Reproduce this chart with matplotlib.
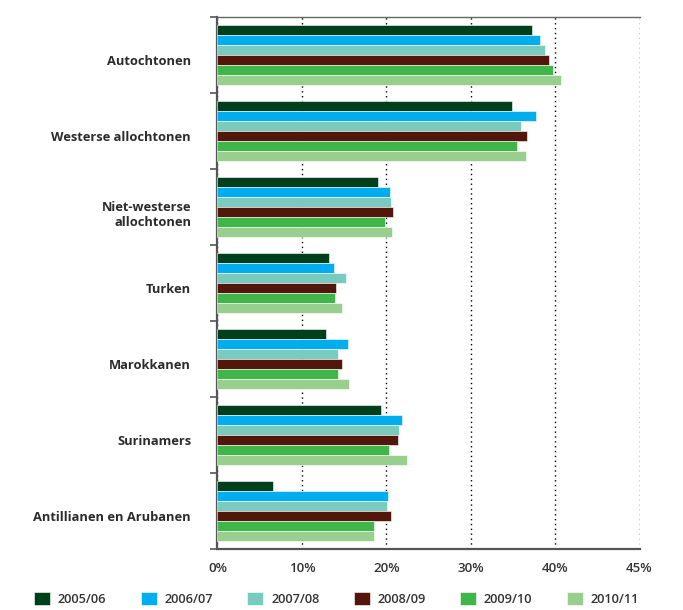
import matplotlib.pyplot as plt
import numpy as np

plt.rcParams['font.family'] = ['Open Sans', 'DejaVu Sans']

groups = ["Autochtonen", "Westerse allochtonen", "Niet-westerse\nallochtonen",
          "Turken", "Marokkanen", "Surinamers", "Antillianen en Arubanen"]
years = ["2005/06", "2006/07", "2007/08", "2008/09", "2009/10", "2010/11"]

v_2005 = [37.3, 34.9, 19.0, 13.2, 12.8, 19.4, 6.6]
v_2006 = [38.2, 37.7, 20.4, 13.8, 15.5, 21.9, 20.2]
v_2007 = [38.8, 35.9, 20.6, 15.2, 14.3, 21.5, 20.1]
v_2008 = [39.3, 36.7, 20.8, 14.1, 14.8, 21.4, 20.5]
v_2009 = [39.7, 35.5, 19.9, 13.9, 14.3, 20.3, 18.6]
v_2010 = [40.7, 36.5, 20.7, 14.7, 15.6, 22.5, 18.6]
series = [v_2005, v_2006, v_2007, v_2008, v_2009, v_2010]

colors = ["#003f1b", "#00aeef", "#79cbbf", "#53160b", "#40b54a", "#98cf8f"]

xticks = [0, 10, 20, 30, 40, 50]
xtick_labels = ["0%", "10%", "20%", "30%", "40%", "45%"]

########## Plot ##########

fig = plt.figure(figsize=(6.83, 6.10), dpi=100)
ax = fig.add_axes([0.3184, 0.10, 0.618, 0.872])

n = len(series)
bar_h = 0.8 / n
y = np.arange(len(groups))
for i, (vals, col) in enumerate(zip(series, colors)):
    ax.barh(y - 0.4 + bar_h * (i + 0.5), vals, height=bar_h, color=col,
            edgecolor="white", linewidth=0.4, label=years[i], zorder=3)

ax.set_ylim(len(groups) - 0.5, -0.5)
ax.set_xlim(0, 50)

# group boundaries as ticks, names as labels
ax.set_yticks(np.arange(len(groups) + 1) - 0.5)
ax.set_yticklabels([])
ax.tick_params(axis="y", which="major", length=5, width=1.2, color="#555555", direction="out")
ax.set_yticks(y + 0.07, minor=True)
ax.set_yticklabels(groups, minor=True, fontsize=9.3, fontweight="bold", color="#2b2b2b")
ax.tick_params(axis="y", which="minor", length=0, pad=19)

ax.set_xticks(xticks)
ax.set_xticklabels(xtick_labels, fontsize=9.5, fontweight="semibold", color="#333333")
ax.tick_params(axis="x", length=0, pad=9)

ax.grid(axis="x", linestyle=(0, (1, 2.5)), color="black", linewidth=1.0, zorder=0)

for side in ["left", "bottom"]:
    ax.spines[side].set_color("#555555")
    ax.spines[side].set_linewidth(1.6)
ax.spines["top"].set_color("#666666")
ax.spines["top"].set_linewidth(1.0)
ax.spines["right"].set_visible(False)

handles, labels = ax.get_legend_handles_labels()
leg = fig.legend(handles, labels, loc="lower center", bbox_to_anchor=(0.4927, -0.012),
                 ncol=6, frameon=False, fontsize=9.2, handlelength=1.25, handleheight=1.25,
                 handletextpad=0.6, columnspacing=2.7)
for t in leg.get_texts():
    t.set_color("#333333")
    t.set_fontweight("semibold")

fig.savefig("out.png", dpi=100)
